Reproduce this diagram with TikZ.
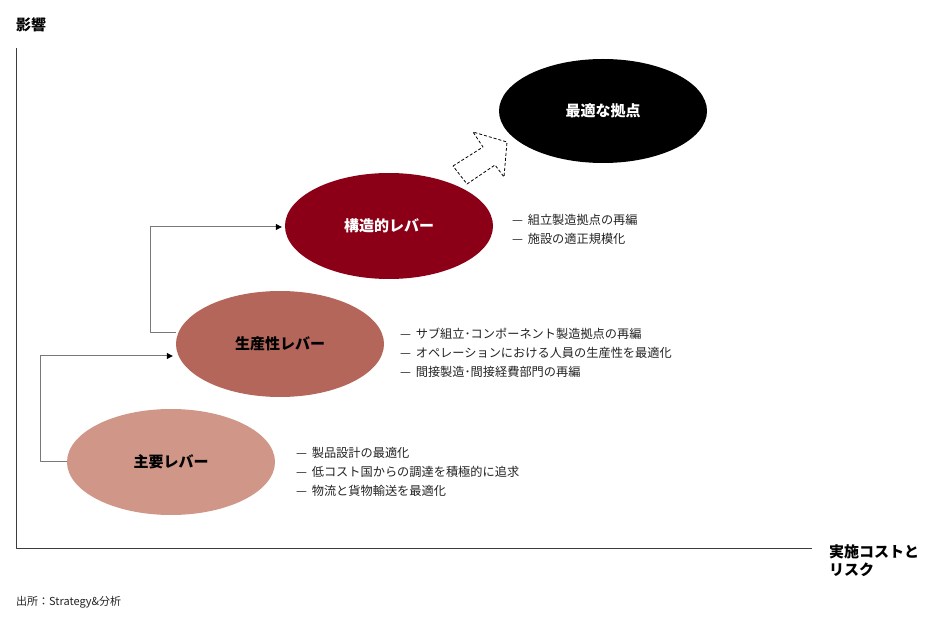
\documentclass[tikz,border=0pt]{standalone}
\usepackage{fontspec}
\setmainfont{Noto Sans CJK JP}
\usetikzlibrary{shapes.geometric,arrows.meta}
\definecolor{leverA}{RGB}{208,150,136}
\definecolor{leverB}{RGB}{181,102,90}
\definecolor{leverC}{RGB}{139,0,22}
\definecolor{axisgray}{RGB}{60,60,60}
\definecolor{linkgray}{RGB}{120,120,120}
\definecolor{txtgray}{RGB}{35,35,35}
\begin{document}
\begin{tikzpicture}[x=1pt, y=-1pt, line join=round,
	lever/.style={ellipse, minimum width=208pt, minimum height=106pt, inner sep=0pt, font=\fontsize{15}{18}\selectfont\bfseries},
	items/.style={anchor=west, align=left, inner sep=0pt, text=txtgray, font=\fontsize{12.2}{19}\selectfont},
	axislabel/.style={anchor=west, align=left, inner sep=0pt, font=\fontsize{15}{18}\selectfont\bfseries},
	link/.style={draw=linkgray, line width=1pt, -{Triangle[length=6pt,width=6pt,fill=black,color=black]}}]
	\useasboundingbox (0,0) rectangle (930,620);
	% Achsen
	\coordinate (O) at (16,548);
	\coordinate (ytop) at (16,48);
	\coordinate (xend) at (812,548);
	\draw[axisgray, line width=1pt] (ytop)--(O)--(xend);
	\node[axislabel] (ylab) at (16,25) {影響};
	\node[axislabel] (xlab) at (829,561) {実施コストと\\リスク};
	\node[anchor=west, inner sep=0pt, text=txtgray, font=\fontsize{11}{13}\selectfont] (src) at (16,602) {出所：Strategy\&分析};
	% Hebel
	\node[lever, fill=leverA] (lev1) at (171,462) {主要レバー};
	\node[lever, fill=leverB] (lev2) at (280,344) {生産性レバー};
	\node[lever, fill=leverC, text=white] (lev3) at (389,226) {構造的レバー};
	\node[lever, fill=black, text=white, minimum height=104pt] (goal) at (603,111) {最適な拠点};
	\draw[link] (lev1.west) -- ++(-26,0) |- ([xshift=-3pt,yshift=-12pt]lev2.west);
	\draw[link] ([yshift=11pt]lev2.west) -- ++(-25,0) |- ([xshift=-3pt,yshift=-1pt]lev3.west);
	% Pfeil zum Ziel
	\draw[dashed, dash pattern=on 3pt off 2pt, line width=.8pt] (453,166)--(483,147)--(473,132)--(507,142)--(504,177)--(495,165)--(467,184)--cycle;
	% Massnahmen
	\node[items] (itm1) at (296,472) {—\hspace{2pt} 製品設計の最適化\\—\hspace{2pt} 低コスト国からの調達を積極的に追求\\—\hspace{2pt} 物流と貨物輸送を最適化};
	\node[items] (itm2) at (400,353) {—\hspace{2pt} サブ組立･コンポーネント製造拠点の再編\\—\hspace{2pt} オペレーションにおける人員の生産性を最適化\\—\hspace{2pt} 間接製造･間接経費部門の再編};
	\node[items] (itm3) at (512,229) {—\hspace{2pt} 組立製造拠点の再編\\—\hspace{2pt} 施設の適正規模化};
\end{tikzpicture}
\end{document}
